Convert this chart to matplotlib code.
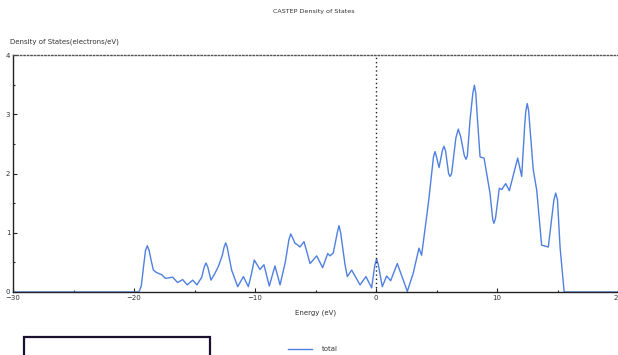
import matplotlib
matplotlib.use("Agg")
import matplotlib.pyplot as plt
from matplotlib.patches import Rectangle
from matplotlib.lines import Line2D
from matplotlib.ticker import MultipleLocator

# Total density of states (electrons/eV) vs energy (eV)
energy = [-30, -19.6, -19.4, -19.2, -19.05, -18.9, -18.75, -18.6, -18.4, -18.15,
          -17.7, -17.4, -17.1, -16.8, -16.4, -15.98, -15.6, -15.15, -14.8, -14.4,
          -14.2, -14.05, -13.9, -13.64, -13.3, -13.03, -12.7, -12.55, -12.42, -12.3,
          -12.2, -11.93, -11.43, -10.96, -10.55, -10.3, -10.06, -9.59, -9.26, -8.82,
          -8.35, -7.93, -7.5, -7.2, -7.05, -6.9, -6.69, -6.5, -6.28, -5.95,
          -5.45, -4.9, -4.41, -3.99, -3.8, -3.53, -3.2, -3.06, -2.92, -2.56,
          -2.37, -2.01, -1.32, -0.83, -0.36, -0.1, 0.05, 0.2, 0.52, 0.88,
          1.21, 1.76, 2.59, 3.08, 3.55, 3.77, 4.33, 4.6, 4.75, 4.88,
          5.0, 5.21, 5.5, 5.62, 5.75, 6.0, 6.12, 6.25, 6.6, 6.80,
          7.0, 7.3, 7.44, 7.55, 7.77, 8.0, 8.13, 8.25, 8.37, 8.60,
          8.93, 9.42, 9.65, 9.75, 9.88, 10.19, 10.4, 10.72, 11.02, 11.71,
          12.04, 12.3, 12.38, 12.5, 12.62, 12.75, 13.0, 13.28, 13.69, 14.24,
          14.7, 14.85, 15.0, 15.21, 15.55, 20]
dos = [0, 0, 0.10, 0.45, 0.70, 0.78, 0.70, 0.55, 0.37, 0.33,
       0.29, 0.23, 0.24, 0.25, 0.16, 0.21, 0.12, 0.20, 0.12, 0.25,
       0.42, 0.49, 0.42, 0.20, 0.32, 0.43, 0.62, 0.76, 0.83, 0.76,
       0.65, 0.37, 0.09, 0.26, 0.09, 0.30, 0.54, 0.38, 0.46, 0.10,
       0.44, 0.12, 0.50, 0.88, 0.98, 0.92, 0.82, 0.80, 0.76, 0.85,
       0.48, 0.61, 0.41, 0.65, 0.61, 0.66, 1.00, 1.12, 1.00, 0.46,
       0.26, 0.37, 0.12, 0.26, 0.07, 0.45, 0.56, 0.45, 0.09, 0.27,
       0.19, 0.48, 0.01, 0.32, 0.74, 0.62, 1.50, 2.00, 2.28, 2.37,
       2.28, 2.10, 2.40, 2.46, 2.38, 2.00, 1.95, 2.00, 2.60, 2.75,
       2.62, 2.30, 2.24, 2.30, 2.90, 3.35, 3.49, 3.35, 2.96, 2.28,
       2.26, 1.67, 1.22, 1.16, 1.25, 1.75, 1.73, 1.83, 1.71, 2.26,
       1.95, 2.85, 3.05, 3.18, 3.05, 2.70, 2.06, 1.72, 0.79, 0.76,
       1.55, 1.67, 1.55, 0.76, 0, 0]

x_ticks = [-30, -20, -10, 0, 10, 20]
y_ticks = [0, 1, 2, 3, 4]

W, H = 618, 355
fig = plt.figure(figsize=(W / 100, H / 100), dpi=100)
ax = fig.add_axes([13 / W, 1 - 292 / H, (618 - 13) / W, (292 - 55) / H])

blue = "#4f80e0"
ax.plot(energy, dos, color=blue, lw=1.0, solid_joinstyle="round")
ax.axvline(0, color="#222222", lw=1.0, ls=(0, (1, 2)))

ax.set_xlim(-30, 20)
ax.set_ylim(0, 4)
ax.set_xticks(x_ticks)
ax.set_yticks(y_ticks)
ax.xaxis.set_minor_locator(MultipleLocator(5))
ax.yaxis.set_minor_locator(MultipleLocator(0.5))
ax.tick_params(which="major", direction="in", length=3, width=0.8, labelsize=5,
               pad=2, color="#222222")
ax.tick_params(which="minor", direction="in", length=1.5, width=0.8, color="#222222")
for lab in ax.get_xticklabels() + ax.get_yticklabels():
    lab.set_color("#333333")

ax.spines["right"].set_visible(False)
ax.spines["top"].set_linestyle((0, (1, 1.5)))
for s in ("left", "bottom", "top"):
    ax.spines[s].set_color("#222222")
    ax.spines[s].set_linewidth(1.0)
ax.spines["top"].set_color("#555555")

fig.text(314 / W, 1 - 12 / H, "CASTEP Density of States", ha="center", va="center",
         fontsize=4.6, color="#333333")
fig.text(10 / W, 1 - 42 / H, "Density of States(electrons/eV)", ha="left", va="center",
         fontsize=5, color="#333333")
fig.text(316 / W, 1 - 313 / H, "Energy (eV)", ha="center", va="center",
         fontsize=5, color="#333333")

# legend entry
fig.add_artist(Line2D([288 / W, 312 / W], [1 - 349 / H, 1 - 349 / H], color=blue, lw=1.0))
fig.text(322 / W, 1 - 349 / H, "total", ha="left", va="center", fontsize=5, color="#333333")

# framed panel at the bottom left
fig.add_artist(Rectangle((24 / W, -0.05), (210 - 24) / W, (1 - 337 / H) + 0.05,
                         transform=fig.transFigure, fill=False, lw=1.6,
                         edgecolor="#1a1030", clip_on=False))

fig.savefig("out.png", dpi=100)
